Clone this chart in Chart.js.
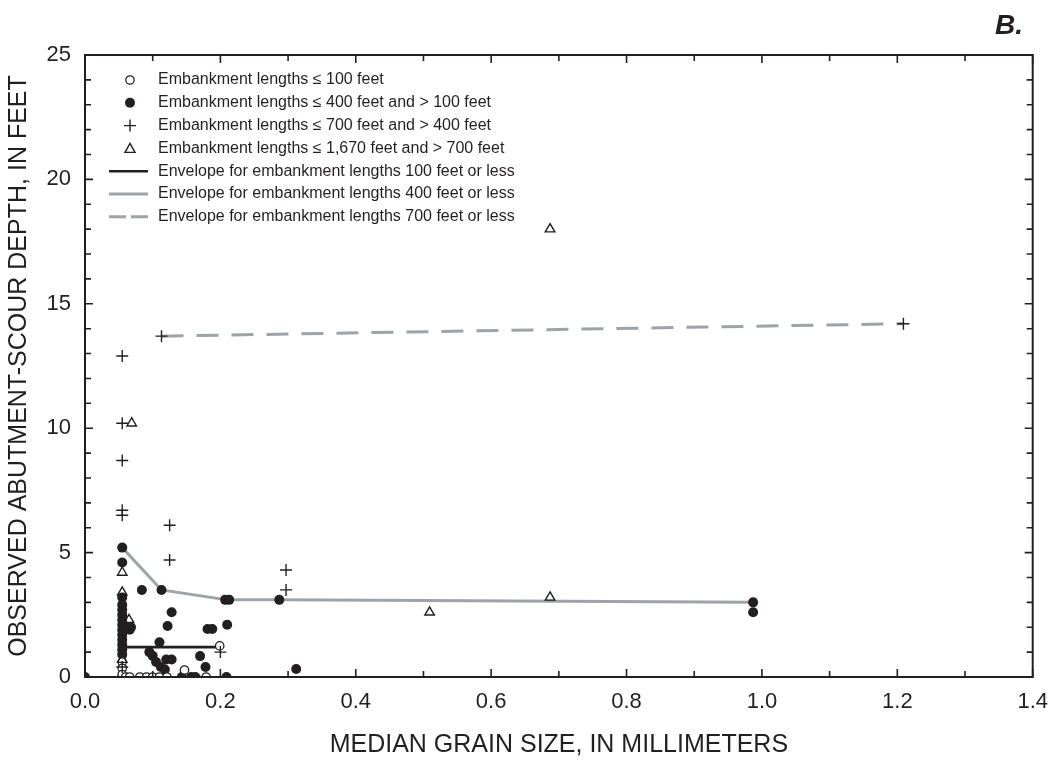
<!DOCTYPE html>
<html>
<head>
<meta charset="utf-8">
<script src="https://cdn.jsdelivr.net/npm/chart.js@4.4.1/dist/chart.umd.min.js"></script>
<style>
  html, body { margin: 0; padding: 0; background: #fff; }
  #wrap { width: 1060px; height: 761px; position: relative; }
</style>
</head>
<body>
<div id="wrap"><canvas id="scourChart"></canvas></div>
<script>
// median grain size (mm) vs observed abutment-scour depth (ft)
const openX = [0.055, 0.055, 0.055, 0.060, 0.066, 0.081, 0.091, 0.100, 0.110, 0.121, 0.147, 0.179, 0.199];
const openY = [0.6, 0.35, 0.1, 0, 0, 0, 0, 0, 0, 0, 0.28, 0, 1.25];

const filledX = [0.0, 0.055, 0.055, 0.055, 0.055, 0.055, 0.055, 0.055, 0.055, 0.055, 0.055, 0.055, 0.055, 0.055, 0.055, 0.055,
  0.062, 0.066, 0.068, 0.084, 0.113, 0.128, 0.122, 0.110, 0.095, 0.100, 0.105, 0.112, 0.120, 0.128, 0.118, 0.170, 0.178,
  0.181, 0.188, 0.210, 0.207, 0.213, 0.287, 0.143, 0.157, 0.163, 0.209, 0.312, 0.987, 0.987];
const filledY = [0, 5.2, 4.6, 3.2, 2.9, 2.7, 2.5, 2.3, 2.1, 1.9, 1.7, 1.5, 1.3, 1.1, 0.9, 0,
  2.0, 1.9, 2.0, 3.5, 3.5, 2.6, 2.05, 1.4, 1.0, 0.85, 0.6, 0.4, 0.7, 0.7, 0.3, 0.84, 0.4,
  1.93, 1.93, 2.1, 3.1, 3.1, 3.1, 0, 0, 0, 0, 0.32, 3.0, 2.6];

const plusX = [0.055, 0.055, 0.055, 0.055, 0.055, 0.113, 0.125, 0.125, 0.297, 0.297, 0.200, 1.209, 0.055];
const plusY = [12.9, 10.2, 8.7, 6.7, 6.5, 13.7, 6.1, 4.7, 4.3, 3.5, 1.0, 14.2, 0.4];

const triX = [0.069, 0.055, 0.055, 0.065, 0.055, 0.509, 0.687, 0.687];
const triY = [10.2, 4.2, 3.4, 2.3, 0.7, 2.6, 3.2, 18.0];

const env100X = [0.055, 0.200];
const env100Y = [1.2, 1.2];
const env400X = [0.055, 0.113, 0.210, 0.287, 0.987];
const env400Y = [5.2, 3.5, 3.1, 3.1, 3.0];
const env700X = [0.113, 1.209];
const env700Y = [13.7, 14.2];

const legendLabels = [
  'Embankment lengths \u2264 100 feet',
  'Embankment lengths \u2264 400 feet and > 100 feet',
  'Embankment lengths \u2264 700 feet and > 400 feet',
  'Embankment lengths \u2264 1,670 feet and > 700 feet',
  'Envelope for embankment lengths 100 feet or less',
  'Envelope for embankment lengths 400 feet or less',
  'Envelope for embankment lengths 700 feet or less'
];

const INK = '#231f20';
const GREY = '#9ea3a9';
const FONT = "Arial, 'Liberation Sans', Helvetica, sans-serif";

const pts = (xs, ys) => xs.map((x, i) => ({ x, y: ys[i] }));

function isMajor(v, step) {
  const r = v / step;
  return Math.abs(r - Math.round(r)) < 1e-6;
}

const framePlugin = {
  id: 'frameAndLegend',
  afterDraw(chart) {
    const { ctx: c, chartArea: a, scales } = chart;
    const xs = scales.x, ys = scales.y;
    c.save();
    // box
    c.strokeStyle = INK;
    c.lineWidth = 2;
    c.strokeRect(a.left, a.top, a.right - a.left, a.bottom - a.top);
    // inward ticks, all four sides
    c.lineWidth = 1.6;
    c.beginPath();
    xs.ticks.forEach(t => {
      const px = xs.getPixelForValue(t.value);
      const len = isMajor(t.value, 0.2) ? 8 : 6;
      c.moveTo(px, a.bottom); c.lineTo(px, a.bottom - len);
      c.moveTo(px, a.top); c.lineTo(px, a.top + len);
    });
    ys.ticks.forEach(t => {
      const py = ys.getPixelForValue(t.value);
      const len = isMajor(t.value, 5) ? 8 : 6;
      c.moveTo(a.left, py); c.lineTo(a.left + len, py);
      c.moveTo(a.right, py); c.lineTo(a.right - len, py);
    });
    c.stroke();

    // axis titles
    c.fillStyle = INK;
    c.font = '25px ' + FONT;
    c.textAlign = 'center';
    c.textBaseline = 'middle';
    c.fillText('MEDIAN GRAIN SIZE, IN MILLIMETERS', (a.left + a.right) / 2, 745);
    c.save();
    c.translate(19, (a.top + a.bottom) / 2);
    c.rotate(-Math.PI / 2);
    c.fillText('OBSERVED ABUTMENT-SCOUR DEPTH, IN FEET', 0, 0);
    c.restore();

    // panel letter
    c.font = 'italic bold 28px ' + FONT;
    c.textAlign = 'right';
    c.textBaseline = 'alphabetic';
    c.fillText('B.', 1023, 34);

    // legend
    const mx = 130, tx = 158, y0 = 80, dy = 22.8;
    c.font = '16px ' + FONT;
    c.textAlign = 'left';
    c.textBaseline = 'middle';
    legendLabels.forEach((label, i) => {
      const y = y0 + i * dy;
      c.fillStyle = INK;
      c.fillText(label, tx, y);
      c.strokeStyle = INK;
      c.fillStyle = INK;
      c.setLineDash([]);
      if (i === 0) {
        c.lineWidth = 1.3;
        c.beginPath(); c.arc(mx, y, 4.2, 0, Math.PI * 2); c.stroke();
      } else if (i === 1) {
        c.beginPath(); c.arc(mx, y, 5, 0, Math.PI * 2); c.fill();
      } else if (i === 2) {
        c.lineWidth = 1.4;
        c.beginPath(); c.moveTo(mx - 6, y); c.lineTo(mx + 6, y); c.moveTo(mx, y - 6); c.lineTo(mx, y + 6); c.stroke();
      } else if (i === 3) {
        c.lineWidth = 1.4;
        c.beginPath(); c.moveTo(mx, y - 5); c.lineTo(mx + 5, y + 4); c.lineTo(mx - 5, y + 4); c.closePath(); c.stroke();
      } else {
        c.lineWidth = i === 4 ? 2.6 : 3;
        c.strokeStyle = i === 4 ? INK : GREY;
        if (i === 6) c.setLineDash([17, 5]);
        c.beginPath(); c.moveTo(109, y); c.lineTo(148, y); c.stroke();
        c.setLineDash([]);
      }
    });
    c.restore();
  }
};

new Chart(document.getElementById('scourChart'), {
  type: 'scatter',
  data: {
    datasets: [
      { label: 'open', data: pts(openX, openY), pointStyle: 'circle', pointRadius: 4.2,
        borderColor: INK, backgroundColor: '#ffffff', borderWidth: 1.3, order: 1 },
      { label: 'filled', data: pts(filledX, filledY), pointStyle: 'circle', pointRadius: 5,
        borderColor: INK, backgroundColor: INK, borderWidth: 0, order: 1 },
      { label: 'plus', data: pts(plusX, plusY), pointStyle: 'cross', pointRadius: 6,
        borderColor: INK, borderWidth: 1.4, order: 0 },
      { label: 'triangle', data: pts(triX, triY), pointStyle: 'triangle', pointRadius: 5.5,
        borderColor: INK, backgroundColor: 'rgba(255,255,255,0)', borderWidth: 1.4, order: 0 },
      { type: 'line', label: 'env100', data: pts(env100X, env100Y), borderColor: INK, borderWidth: 2.6,
        pointRadius: 0, fill: false, tension: 0, order: 5 },
      { type: 'line', label: 'env400', data: pts(env400X, env400Y), borderColor: GREY, borderWidth: 3,
        pointRadius: 0, fill: false, tension: 0, order: 5 },
      { type: 'line', label: 'env700', data: pts(env700X, env700Y), borderColor: GREY, borderWidth: 3,
        borderDash: [22, 13], pointRadius: 0, fill: false, tension: 0, order: 5 }
    ]
  },
  options: {
    responsive: true,
    maintainAspectRatio: false,
    animation: false,
    layout: { padding: { top: 55, right: 23, left: 0, bottom: 0 } },
    plugins: { legend: { display: false }, tooltip: { enabled: false } },
    scales: {
      x: {
        type: 'linear', min: 0, max: 1.4,
        grid: { display: false, drawTicks: false },
        border: { display: false },
        afterFit(scale) { scale.height = 84; },
        ticks: {
          stepSize: 0.1, autoSkip: false, maxRotation: 0, padding: 12,
          color: INK, font: { family: FONT, size: 22 },
          callback: v => isMajor(v, 0.2) ? (+v).toFixed(1) : ''
        }
      },
      y: {
        type: 'linear', min: 0, max: 25,
        grid: { display: false, drawTicks: false },
        border: { display: false },
        afterFit(scale) { scale.width = 85; },
        ticks: {
          stepSize: 1, autoSkip: false, padding: 14,
          color: INK, font: { family: FONT, size: 22 },
          callback: v => isMajor(v, 5) ? String(Math.round(v)) : ''
        }
      }
    }
  },
  plugins: [framePlugin]
});
</script>
</body>
</html>
